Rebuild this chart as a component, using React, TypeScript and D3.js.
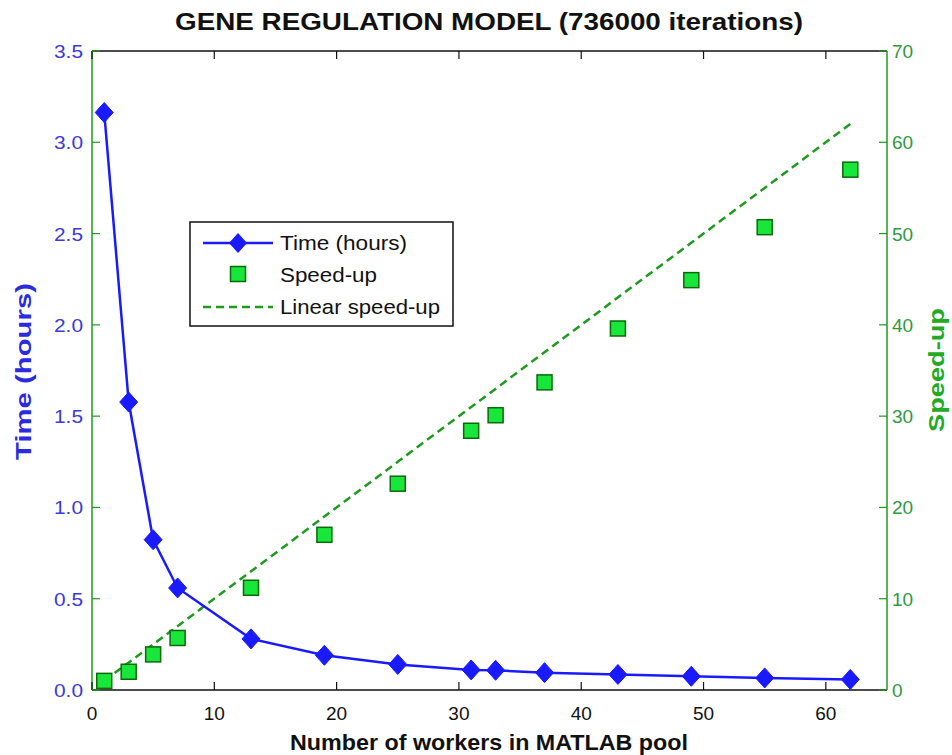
import React from "react";
import * as d3 from "d3";

const workers = [1, 3, 5, 7, 13, 19, 25, 31, 33, 37, 43, 49, 55, 62];
const timeHours = [3.163, 1.577, 0.823, 0.559, 0.28, 0.19, 0.14, 0.11, 0.108, 0.095, 0.085, 0.075, 0.066, 0.058];
const speedUp = [1.0, 2.0, 3.9, 5.7, 11.2, 17.0, 22.6, 28.4, 30.1, 33.7, 39.6, 44.9, 50.7, 57.0];
const linearX = [1, 62];
const xTicks = [0, 10, 20, 30, 40, 50, 60];
const leftTicks = [0, 0.5, 1.0, 1.5, 2.0, 2.5, 3.0, 3.5];
const rightTicks = [0, 10, 20, 30, 40, 50, 60, 70];

const W = 952, H = 755;
const L = 92, R = 887, T = 51, B = 690;
const FONT = "'Liberation Sans', Arial, sans-serif";
const BLUE = "#1a1aff";
const BLUE_TXT = "#3a3ad8";
const GREEN_LINE = "#1e9a1e";
const GREEN_TXT = "#2e9a3e";

export default function App() {
  const x = d3.scaleLinear().domain([0, 65]).range([L, R]);
  const yL = d3.scaleLinear().domain([0, 3.5]).range([B, T]);
  const yR = d3.scaleLinear().domain([0, 70]).range([B, T]);
  const timeLine = d3.line<number>().x((_, i) => x(workers[i])).y((d) => yL(d))(timeHours) || "";
  const linLine = d3.line<number>().x((d) => x(d)).y((d) => yR(d))(linearX) || "";
  const diamond = (cx: number, cy: number, w = 9, h = 10) =>
    `M${cx},${cy - h}L${cx + w},${cy}L${cx},${cy + h}L${cx - w},${cy}Z`;
  const sq = 15;
  return (
    <svg width={W} height={H} style={{ position: "absolute", left: 0, top: 0, background: "#fff" }}>
      <rect x={0} y={0} width={W} height={H} fill="#fff" />
      <text x={175} y={30} fontFamily={FONT} fontWeight="bold" fontSize={24} fill="#111" textLength={628} lengthAdjust="spacingAndGlyphs">
        GENE REGULATION MODEL (736000 iterations)
      </text>
      {/* axes box */}
      <line x1={L} y1={T} x2={R} y2={T} stroke="#111" strokeWidth={1.5} />
      <line x1={L} y1={B} x2={R} y2={B} stroke="#111" strokeWidth={1.5} />
      <line x1={L} y1={T} x2={L} y2={B} stroke={GREEN_LINE} strokeWidth={1.5} />
      <line x1={R} y1={T} x2={R} y2={B} stroke={GREEN_LINE} strokeWidth={1.5} />
      {xTicks.map((t) => (
        <g key={"x" + t}>
          <line x1={x(t)} x2={x(t)} y1={B} y2={B - 8} stroke="#111" strokeWidth={1.2} />
          <line x1={x(t)} x2={x(t)} y1={T} y2={T + 8} stroke="#111" strokeWidth={1.2} />
          <text x={x(t)} y={B + 30} textAnchor="middle" fontFamily={FONT} fontSize={19} fill="#111">
            {t}
          </text>
        </g>
      ))}
      {leftTicks.map((t) => (
        <g key={"l" + t}>
          <line x1={L} x2={L + 8} y1={yL(t)} y2={yL(t)} stroke={GREEN_LINE} strokeWidth={1.2} />
          <text x={L - 38} y={yL(t) + 7} fontFamily={FONT} fontSize={19} fill={BLUE_TXT} textLength={29} lengthAdjust="spacingAndGlyphs">
            {t.toFixed(1)}
          </text>
        </g>
      ))}
      {rightTicks.map((t) => (
        <g key={"r" + t}>
          <line x1={R - 8} x2={R} y1={yR(t)} y2={yR(t)} stroke={GREEN_LINE} strokeWidth={1.2} />
          <text x={R + 5} y={yR(t) + 7} textAnchor="start" fontFamily={FONT} fontSize={19} fill={GREEN_TXT}>
            {t}
          </text>
        </g>
      ))}
      {/* axis titles */}
      <text x={290} y={750} fontFamily={FONT} fontWeight="bold" fontSize={22} fill="#111" textLength={398} lengthAdjust="spacingAndGlyphs">
        Number of workers in MATLAB pool
      </text>
      <text transform={`translate(31,460) rotate(-90)`} fontFamily={FONT} fontWeight="bold" fontSize={22} fill="#2a2ae0" textLength={177} lengthAdjust="spacingAndGlyphs">
        Time (hours)
      </text>
      <text transform={`translate(944,432) rotate(-90)`} fontFamily={FONT} fontWeight="bold" fontSize={22} fill="#22aa22" textLength={124} lengthAdjust="spacingAndGlyphs">
        Speed-up
      </text>
      {/* linear speed-up */}
      <path d={linLine} fill="none" stroke={GREEN_LINE} strokeWidth={2.5} strokeDasharray="8,5" />
      {/* time line */}
      <path d={timeLine} fill="none" stroke={BLUE} strokeWidth={2.5} />
      {timeHours.map((t, i) => (
        <path key={"d" + i} d={diamond(x(workers[i]), yL(t))} fill={BLUE} stroke={BLUE} strokeWidth={1} />
      ))}
      {speedUp.map((s, i) => (
        <rect key={"s" + i} x={x(workers[i]) - sq / 2} y={yR(s) - sq / 2} width={sq} height={sq} fill="#19e63a" stroke="#0a6a0a" strokeWidth={1.5} />
      ))}
      {/* legend */}
      <g>
        <rect x={190} y={222} width={263} height={104} fill="#fff" stroke="#111" strokeWidth={1.5} />
        <line x1={203} x2={273} y1={243} y2={243} stroke={BLUE} strokeWidth={2.5} />
        <path d={diamond(238, 243)} fill={BLUE} />
        <text x={280} y={250} fontFamily={FONT} fontSize={21} fill="#111" textLength={127} lengthAdjust="spacingAndGlyphs">Time (hours)</text>
        <rect x={238 - sq / 2} y={274 - sq / 2} width={sq} height={sq} fill="#19e63a" stroke="#0a6a0a" strokeWidth={1.5} />
        <text x={280} y={282} fontFamily={FONT} fontSize={21} fill="#111" textLength={97} lengthAdjust="spacingAndGlyphs">Speed-up</text>
        <line x1={203} x2={273} y1={307} y2={307} stroke={GREEN_LINE} strokeWidth={2.5} strokeDasharray="8,5" />
        <text x={280} y={314} fontFamily={FONT} fontSize={21} fill="#111" textLength={160} lengthAdjust="spacingAndGlyphs">Linear speed-up</text>
      </g>
    </svg>
  );
}
